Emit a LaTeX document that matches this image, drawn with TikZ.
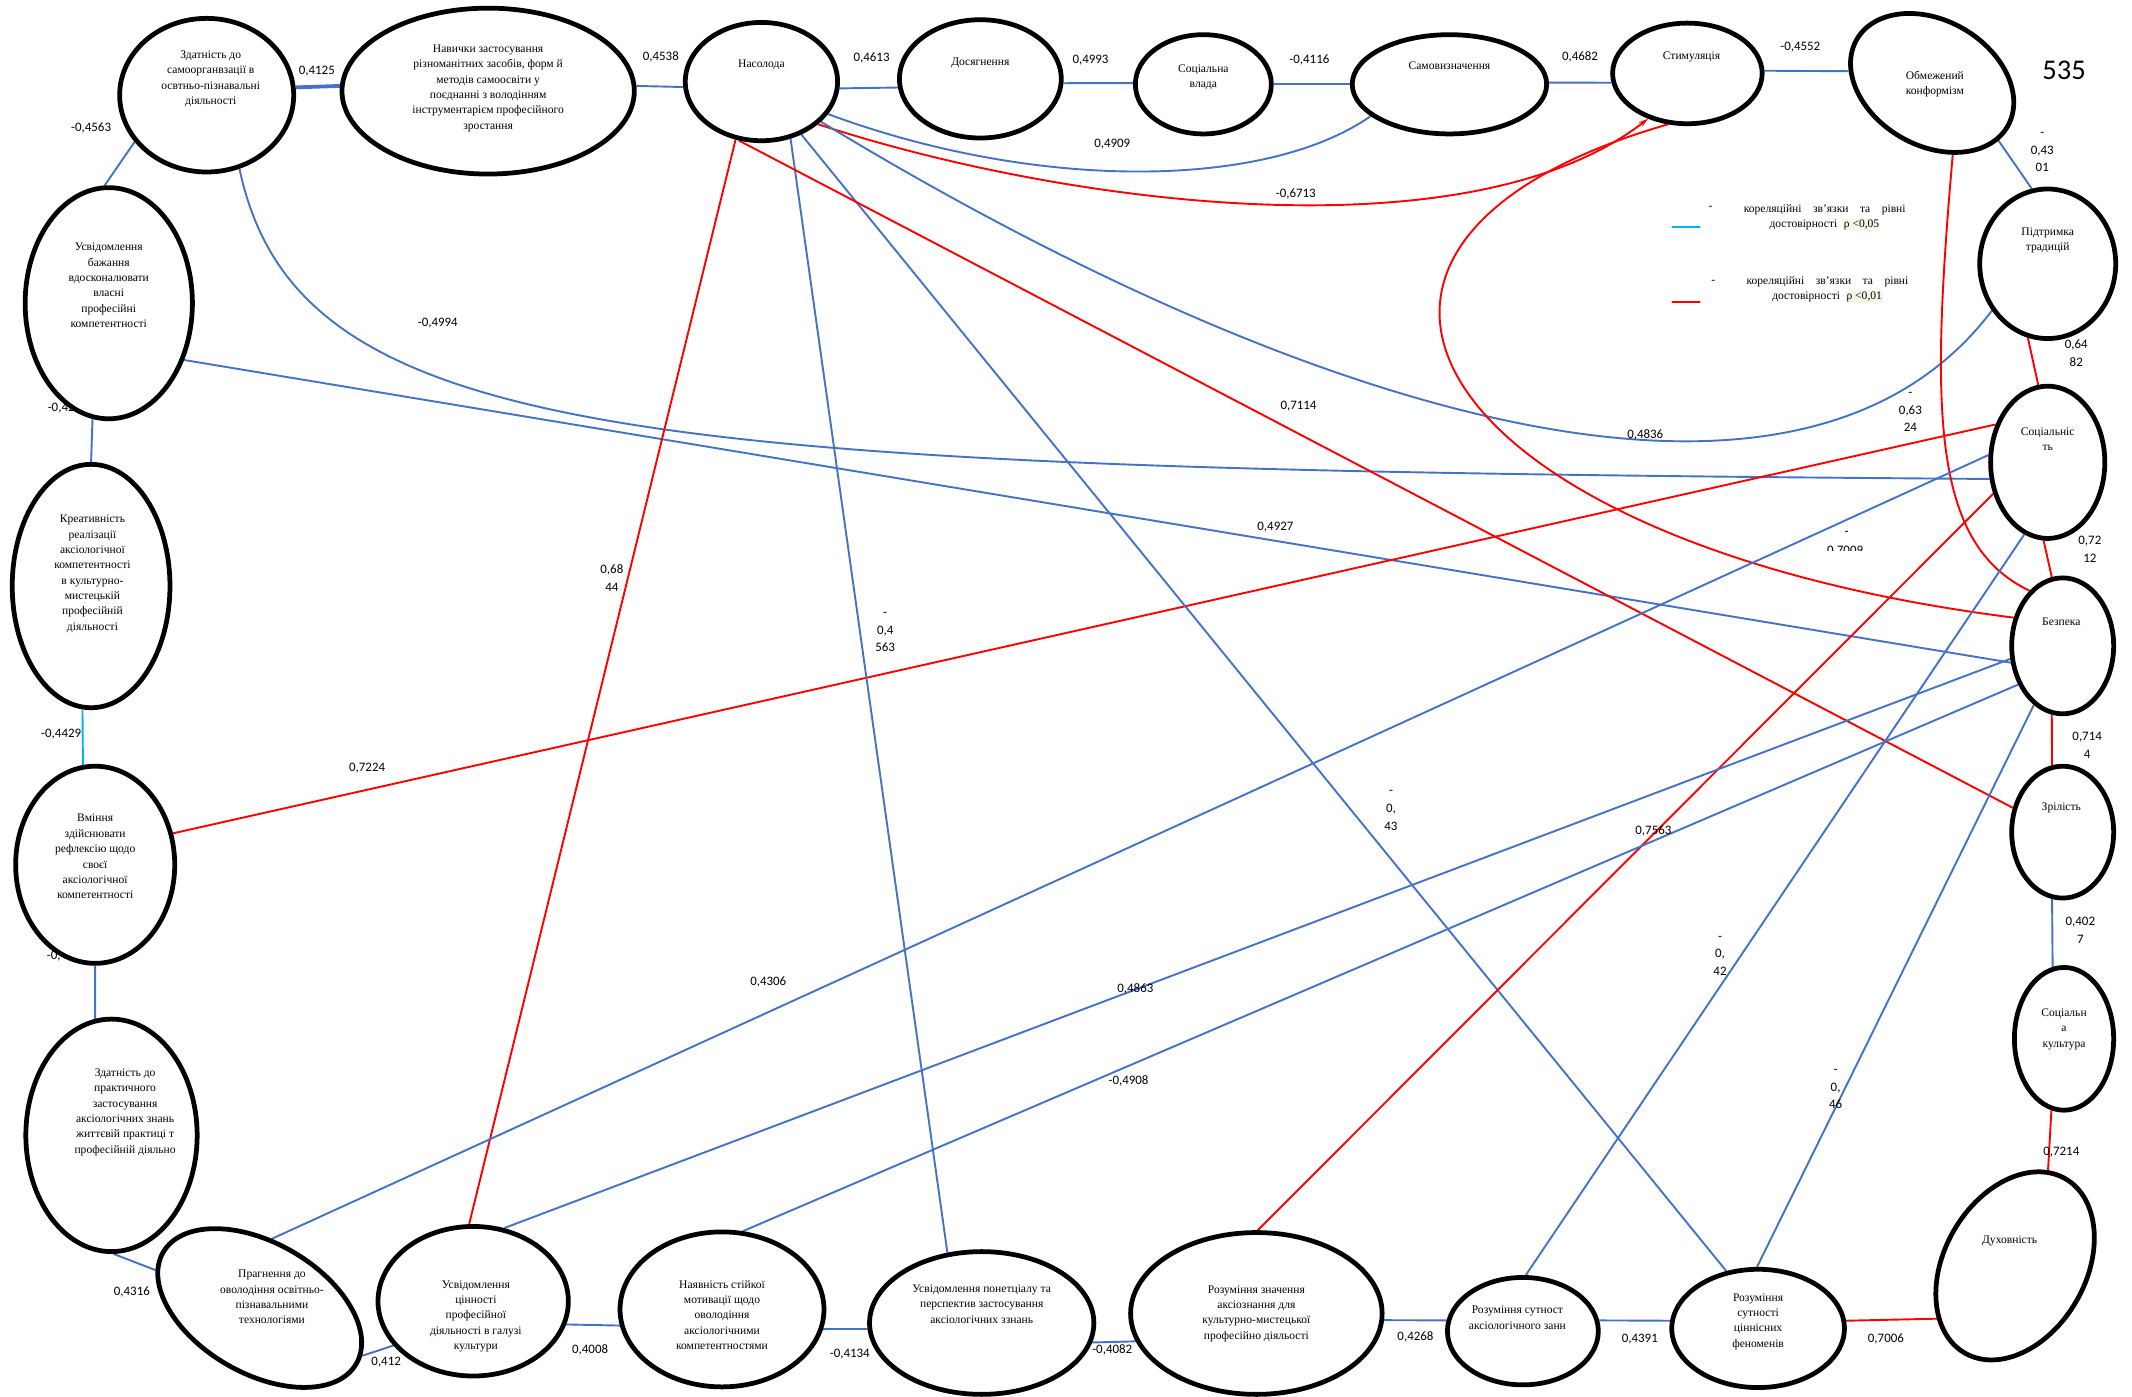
\documentclass[tikz,border=0pt]{standalone}
\usepackage{fontspec}
\setmainfont{Liberation Serif}
\newfontfamily\calib{Carlito}
\usetikzlibrary{shapes.geometric,backgrounds,arrows.meta}
\definecolor{lineblue}{RGB}{68,114,196}
\definecolor{linecyan}{RGB}{0,176,240}
\definecolor{hilite}{RGB}{246,246,232}
\begin{document}
\begin{tikzpicture}[x=1pt,y=-1pt,line join=round,line cap=round]
	\tikzset{oval/.style={ellipse,draw,line width=3.5pt,fill=white,inner sep=0pt},
		otext/.style={align=center,inner sep=0pt,font=\fontsize{8.5}{11.3}\selectfont},
		val/.style={align=center,inner sep=0pt,font=\calib\fontsize{9.5}{13}\selectfont},
		bl/.style={lineblue,line width=1.4pt},
		rd/.style={red,line width=1.4pt}}
	\useasboundingbox (0,0) rectangle (1568,1027);
	\node[oval,minimum width=128pt,minimum height=113pt] (zdat) at (152,70) {};
	\node[oval,minimum width=215pt,minimum height=122pt] (navy) at (359,67) {};
	\node[oval,minimum width=112pt,minimum height=87pt] (nas) at (560,60) {};
	\node[oval,minimum width=119pt,minimum height=87pt] (dos) at (721,58) {};
	\node[oval,minimum width=100pt,minimum height=73pt] (svl) at (885,62) {};
	\node[oval,minimum width=143pt,minimum height=73pt] (samo) at (1066,62) {};
	\node[oval,minimum width=110pt,minimum height=74pt] (stym) at (1241,54) {};
	\node[oval,minimum width=128pt,minimum height=92pt,rotate=-30] (obm) at (1421,61) {};
	\node[oval,minimum width=100pt,minimum height=110pt] (pidt) at (1506,194) {};
	\node[oval,minimum width=84pt,minimum height=112pt] (soci) at (1506,340) {};
	\node[oval,minimum width=75pt,minimum height=100pt] (bezp) at (1517,475) {};
	\node[oval,minimum width=75pt,minimum height=97pt] (zril) at (1517,612) {};
	\node[oval,minimum width=73pt,minimum height=105pt] (scult) at (1518,764) {};
	\node[oval,minimum width=148pt,minimum height=104pt,rotate=60] (dukh) at (1482,931) {};
	\node[oval,minimum width=127pt,minimum height=87pt] (rsut) at (1293,977) {};
	\node[oval,minimum width=111pt,minimum height=79pt] (rsak) at (1120,979) {};
	\node[oval,minimum width=185pt,minimum height=119pt] (rznach) at (924,966) {};
	\node[oval,minimum width=165pt,minimum height=105pt] (uspot) at (722,973) {};
	\node[oval,minimum width=150pt,minimum height=114pt] (nayav) at (531,963) {};
	\node[oval,minimum width=140pt,minimum height=110pt] (usvc) at (348,957) {};
	\node[oval,minimum width=164pt,minimum height=96pt,rotate=-30] (prag) at (191,962) {};
	\node[oval,minimum width=126pt,minimum height=171pt] (zprak) at (82,835) {};
	\node[oval,minimum width=123pt,minimum height=170pt] (usv) at (80,223) {};
	\node[oval,minimum width=116pt,minimum height=179pt] (krea) at (67,431) {};
	\node[oval,minimum width=117pt,minimum height=145pt] (vmin) at (70,636) {};
	\node[otext] (zdatT) at (155,58) {Здатність до\\самоорганвзації в\\освтньо-пізнавальні\\діяльності};
	\node[otext] (navyT) at (359,65) {Навички застосування\\різноманітних засобів, форм й\\методів самоосвіти у\\поєднанні з володінням\\інструментарієм професійного\\зростання};
	\node[otext] (nasT) at (560,48) {Насолода};
	\node[otext] (dosT) at (721,46) {Досягнення};
	\node[otext] (svlT) at (885,57) {Соціальна\\влада};
	\node[otext] (samoT) at (1066,48) {Самовизначення};
	\node[otext] (stymT) at (1244,42) {Стимуляція};
	\node[otext] (obmT) at (1423,62) {Обмежений\\конформізм};
	\node[otext] (pidtT) at (1506,177) {Підтримка\\традицій};
	\node[otext] (sociT) at (1506,323) {Соціальніс\\ть};
	\node[otext] (bezpT) at (1516,457) {Безпека};
	\node[otext] (zrilT) at (1516,594) {Зрілість};
	\node[otext] (scultT) at (1518,757) {Соціальн\\а\\культура};
	\node[otext] (dukhT) at (1478,913) {Духовність};
	\node[otext] (rsutT) at (1293,972) {Розуміння\\сутності\\ціннісних\\феноменів};
	\node[otext] (rsakT) at (1116,969) {Розуміння сутност\\аксіологічного занн};
	\node[otext] (rznachT) at (924,966) {Розуміння значення\\аксіознання для\\культурно-мистецької\\професійно діяльості};
	\node[otext] (uspotT) at (722,959) {Усвідомлення понетціалу та\\перспектив застосування\\аксіологічних ззнань};
	\node[otext] (nayavT) at (531,967) {Наявність стійкої\\мотивації щодо\\оволодіння\\аксіологічними\\компетентностями};
	\node[otext] (usvcT) at (350,968) {Усвідомлення\\цінності\\професійної\\діяльності в галузі\\культури};
	\node[otext] (pragT) at (200,954) {Прагнення до\\оволодіння освітньо-\\пізнавальними\\технологіями};
	\node[otext] (zprakT) at (92,818) {Здатність до\\практичного\\застосування\\аксіологічних знань\\життєвій практиці т\\професійній діяльно};
	\node[otext] (usvT) at (80,210) {Усвідомлення\\бажання\\вдосконалювати\\власні\\професійні\\компетентності};
	\node[otext] (kreaT) at (68,422) {Креативність\\реалізації\\аксіологічної\\компетентності\\в культурно-\\мистецькій\\професійній\\діяльності};
	\node[otext] (vminT) at (70,630) {Вміння\\здійснювати\\рефлексію щодо\\своєї\\аксіологічної\\компетентності};
	\begin{pgfonlayer}{background}
		\draw[bl,line width=2.8pt] (zdat.5) -- (navy.178);
		\draw[bl] (navy.2) -- (nas.184);
		\draw[bl] (nas.-5) -- (dos.186);
		\draw[bl] (dos.-3) -- (svl.179);
		\draw[bl] (svl.0) -- (samo.180);
		\draw[bl] (samo.1) -- (stym.187);
		\draw[bl] (stym.2) -- (obm.202);
		\draw[bl] (obm.-11) -- (pidt.102);
		\draw[rd] (pidt.255) -- (soci.97);
		\draw[rd] (soci.267) -- (bezp.99);
		\draw[rd] (bezp.261) -- (zril.99);
		\draw[bl] (zril.261) -- (scult.99);
		\draw[rd] (scult.260) -- (dukh.11);
		\draw[rd] (dukh.154) -- (rsut.5);
		\draw[bl] (rsut.175) -- (rsak.8);
		\draw[bl] (rsak.172) -- (rznach.-3);
		\draw[bl] (rznach.193) -- (uspot.-10);
		\draw[bl] (uspot.183) -- (nayav.-11);
		\draw[bl] (nayav.189) -- (usvc.-14);
		\draw[bl] (usvc.209) -- (prag.5);
		\draw[bl] (prag.190) -- (zprak.271);
		\draw[bl] (zprak.98) -- (vmin.270);
		\draw[linecyan,line width=1.4pt] (vmin.97) -- (krea.266);
		\draw[bl] (krea.90) -- (usv.262);
		\draw[bl] (usv.92) -- (zdat.213);
		\draw[bl] (zdat.-66) .. controls (220,330) and (480,345) .. (soci.196);
		\draw[bl] (usv.-37) -- (bezp.198);
		\draw[rd] (vmin.22) -- (soci.144);
		\draw[rd] (nas.246) -- (usvc.93);
		\draw[bl] (nas.-63) -- (uspot.116);
		\draw[bl] (nas.-53) -- (rsut.119);
		\draw[rd] (nas.249) -- (zril.154);
		\draw[bl] (nas.-26) .. controls (760,140) and (930,140) .. (samo.202);
		\draw[rd,-{Stealth[length=7pt,width=4pt]}] (nas.-37) .. controls (780,150) and (1080,190) .. (stym.229);
		\draw[bl] (nas.-34) .. controls (950,300) and (1320,420) .. (pidt.220);
		\draw[rd] (stym.249) .. controls (920,180) and (1050,400) .. (bezp.150);
		\draw[rd] (obm.-44) .. controls (1420,300) and (1420,400) .. (bezp.121);
		\draw[bl] (prag.110) -- (soci.173);
		\draw[rd] (rznach.89) -- (soci.210);
		\draw[bl] (rsak.87) -- (soci.252);
		\draw[bl] (usvc.67) -- (bezp.194);
		\draw[bl] (nayav.75) -- (bezp.221);
		\draw[bl] (rsut.91) -- (bezp.244);
		\node[val] (v01) at (233,52) {0,4125};
		\node[val] (v02) at (486,42) {0,4538};
		\node[val] (v03) at (641,43) {0,4613};
		\node[val] (v04) at (802,44) {0,4993};
		\node[val] (v05) at (963,44) {-0,4116};
		\node[val] (v06) at (1162,42) {0,4682};
		\node[val] (v07) at (1324,35) {-0,4552};
		\node[val] (v08) at (1502,112) {-\\0,43\\01};
		\node[val] (v09) at (1527,260) {0,64\\82};
		\node[val] (v10) at (1537,404) {0,72\\12};
		\node[val] (v11) at (1535,548) {0,714\\4};
		\node[val] (v12) at (1530,684) {0,402\\7};
		\node[val] (v13) at (1516,847) {0,7214};
		\node[val] (v14) at (1387,985) {0,7006};
		\node[val] (v15) at (1206,985) {0,4391};
		\node[val] (v16) at (1041,983) {0,4268};
		\node[val] (v17) at (818,993) {-0,4082};
		\node[val] (v18) at (625,996) {-0,4134};
		\node[val] (v19) at (434,993) {0,4008};
		\node[val] (v20) at (284,1002) {0,412};
		\node[val] (v21) at (97,950) {0,4316};
		\node[val] (v22) at (42,703) {-0,4};
		\node[val] (v23) at (45,540) {-0,4429};
		\node[val] (v24) at (45,300) {-0,42};
		\node[val] (v25) at (67,94) {-0,4563};
		\node[val] (v26) at (322,238) {-0,4994};
		\node[val] (v27) at (938,388) {0,4927};
		\node[val] (v28) at (270,565) {0,7224};
		\node[val] (v29) at (450,425) {0,68\\44};
		\node[val] (v30) at (651,465) {-\\0,4\\563};
		\node[val] (v31) at (1023,596) {-\\0,\\43};
		\node[val] (v32) at (955,299) {0,7114};
		\node[val] (v33) at (818,106) {0,4909};
		\node[val] (v34) at (953,143) {-0,6713};
		\node[val] (v35) at (1210,320) {0,4836};
		\node[val] (v36) at (1405,303) {-\\0,63\\24};
		\node[val] (v37) at (1358,392) {-};
		\begin{scope}
			\clip (1330,399) rectangle (1390,405);
			\node[val] (v38) at (1357,405) {0,7009};
		\end{scope}
		\node[val] (v39) at (565,722) {0,4306};
		\node[val] (v40) at (1216,611) {0,7563};
		\node[val] (v41) at (1265,703) {-\\0,\\42};
		\node[val] (v42) at (835,727) {0,4863};
		\node[val] (v43) at (830,795) {-0,4908};
		\node[val] (v44) at (1350,801) {-\\0,\\46};
	\end{pgfonlayer}
	\draw[linecyan,line width=1.6pt] (1230,167) -- (1250,167);
	\draw[red,line width=1.6pt] (1230,222) -- (1250,222);
	\node[otext] (lgA) at (1258,153) {-};
	\node[otext] (lgB) at (1260,207) {-};
	\setlength{\fboxsep}{0.5pt}
	\node[otext] (lgAT) at (1342,160) {\makebox[119pt][s]{кореляційні зв’язки та рівні}\\достовірності \ \colorbox{hilite}{ρ <0,05}};
	\node[otext] (lgBT) at (1344,213) {\makebox[119pt][s]{кореляційні зв’язки та рівні}\\достовірності \ \colorbox{hilite}{ρ <0,01}};
	\node[font=\calib\fontsize{21}{24}\selectfont,inner sep=0pt] (pgnum) at (1518,52) {535};
\end{tikzpicture}
\end{document}
